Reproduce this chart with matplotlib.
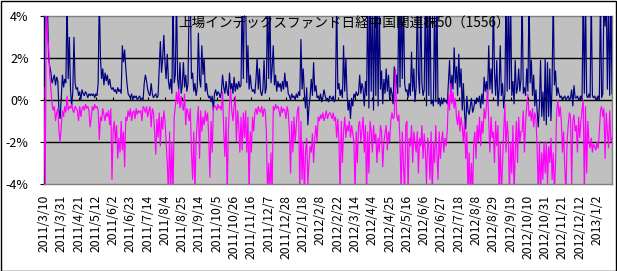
import matplotlib
matplotlib.use("Agg")
import matplotlib.pyplot as plt
from matplotlib.patches import Rectangle

plt.rcParams['font.family'] = ['Noto Sans CJK JP', 'DejaVu Sans']

title = "上場インデックスファンド日経中国関連株50（1556）"

date_labels = ["2011/3/10", "2011/3/31", "2011/4/21", "2011/5/12", "2011/6/2", "2011/6/23",
               "2011/7/14", "2011/8/4", "2011/8/25", "2011/9/14", "2011/10/5", "2011/10/26",
               "2011/11/16", "2011/12/7", "2011/12/28", "2012/1/18", "2012/2/8", "2012/2/22",
               "2012/3/14", "2012/4/4", "2012/4/25", "2012/5/16", "2012/6/6", "2012/6/27",
               "2012/7/18", "2012/8/8", "2012/8/29", "2012/9/19", "2012/10/10", "2012/10/31",
               "2012/11/21", "2012/12/12", "2013/1/2"]
label_step = 15

yticks = [4, 2, 0, -2, -4]

# navy series (%), values beyond +/-4 are clipped by the axis
navy = [
    0.9, 4.5, 5.0, 4.5, 2.0, 1.6, 1.3, 0.8, 1.0, 1.2, 0.7, 1.1, 0.9, -0.5, -0.9, 0.2,
    1.2, 0.6, 1.0, 0.8, 5.0, 1.0, 3.0, 0.5, -0.3, 0.4, 3.0, 0.8, 0.5, 0.6, 0.2, 0.4, 0.0, 0.5,
    0.3, 0.2, 0.4, 0.3, 0.1, 0.3, 0.2, 0.3, 0.2, 0.3, 0.1, 0.3, 0.2,
    0.8, 5.0, 2.0, 1.0, 1.5, 0.7, 1.3, 0.9, 1.2, 0.7, 1.0, 0.6,
    0.5, 0.6, 0.4, 0.5, 0.3, 0.6, 0.4, 0.5, 0.3, 2.6, 1.8, 2.4, 1.5, 0.8,
    0.3, 0.2, 0.1, 0.3, 0.0, 0.2, 0.1, 0.2, 0.0, 0.1, 0.2,
    # 84-166
    0.0, 0.1, 0.0, 0.8, 1.2, 0.9, 0.5, 0.3, 0.2, 0.8, 0.3, 0.1, 0.2, 0.3, 0.1, 0.2,
    1.5, 2.8, 1.3, 2.0, 3.1, 1.8, 1.0, 2.2, 0.9, 0.5, 1.0, 0.3, 5.0, 0.8, 1.2, 5.0,
    1.0, 0.5, 1.8, 0.3, 0.7, 1.8, 0.6, 1.2, 0.4, 0.8, 5.0, 5.0, 1.0,
    1.3, 0.4, 0.8, 0.2, 0.6, 3.2, 1.0, 0.6, 2.6, 1.2, 2.0, 0.4, 0.8,
    0.3, 0.1, 0.2, -0.1, 0.2, -0.5, 0.3, 0.5, 0.2, 0.4, 0.3, 0.1, 0.4,
    1.2, 0.6, 0.3, 0.9, 0.4, 0.2, 1.3, 0.5, 0.8, 0.3, 1.1, 0.4,
    # 167-248
    0.8, 0.5, 0.9, 0.6, 0.7, 5.0, 1.0, 5.0, 5.0, 0.8, 2.6, 0.5, 1.2, 0.6, 0.4, 0.5, 0.3,
    1.0, 2.0, 0.5, 1.5, 0.4, 0.2, 0.5, 1.9, 0.3, 0.6, 5.0, 1.0, 5.0, 0.8, 1.5,
    2.6, 0.7, 1.2, 0.4, 0.9, 0.6, 0.8, 0.4, 0.9, 0.5, 1.3, 0.6, 0.9, 0.3,
    0.2, 0.0, 0.3, 0.1, 0.2, 0.0, 0.3, 0.1, 0.4, 0.2, 2.9, 0.5,
    1.5, 0.3, -0.4, 0.6, -1.2, -0.3, 0.2, 1.0, 0.2, 1.8, 0.4, 0.7, 0.1,
    0.2, 0.0, 0.3, -0.1, 0.1, 0.5, 0.2, 0.0, 0.1, -0.1, 0.2,
    # 249-330
    0.1, 0.0, 0.2, -0.1, 0.1, 5.0, 0.5, 0.8, 0.2, 0.5, 0.1, 2.6, 0.4, 2.0, 0.3,
    -0.5, 0.0, -0.9, 0.1, -0.3, 0.3, 0.1, 0.4, 0.2, 0.3, 1.2, 0.3, 0.8,
    0.5, -0.3, 0.9, 0.2, 5.0, -0.4, 5.0, 0.4, 5.0, -0.5, 5.0, 0.2, 5.0, -0.3, 4.8, 0.5,
    1.4, -0.2, 1.0, 0.3, 1.5, 0.4, 1.2, 0.0, 0.6, 0.3, -0.2,
    1.6, 0.5, 1.2, 0.3, 5.0, 0.6, 5.0, 1.0, 5.0, 0.8, 0.4, 0.5, 0.1, 0.8, 0.2,
    2.3, 0.4, 1.5, -0.1, 0.6, 5.0, 1.2, 0.3, 5.0, 0.8, 0.2, 0.5,
    # 331-414
    5.0, -0.3, 5.0, 0.2, 5.0, -0.2, 0.0, -0.3, 5.0, -0.1, 5.0, -0.2, 0.1, -0.3,
    0.0, -0.2, 0.1, -0.1, 0.0, -0.2, 0.8, 1.9, 0.3, 1.2, 0.5, 2.5, 0.8, 1.6, 0.2,
    2.2, 0.6, 1.5, -0.5, 0.8, -0.6, -1.4, 0.2, -0.5, -0.7, -0.3, 0.1, -0.6, -0.4,
    0.0, -0.2, 0.1, -0.1, 0.2, -0.4, 0.3, -0.2, 1.1, 0.4, 0.9, 0.2, 2.6, 0.5, 1.5, 0.3,
    5.0, 1.3, 0.2, 1.9, -0.3, 0.5, 2.6, 0.2, 0.8, -0.4, 0.3, 5.0, 0.4, 5.0,
    0.5, 5.0, 0.2, 0.9, -0.2, 1.9, 0.3, 0.6, 1.5, 0.4, 1.0,
    # 415-493
    5.0, 0.3, 0.6, 0.2, 1.5, 0.4, 5.0, 0.8, 1.9, 0.2, 1.2, -0.3, 0.5, -0.5, -1.3,
    -0.2, 1.9, -0.8, 0.4, -1.0, 2.0, -1.2, 1.8, -0.8, 1.5, -1.0, 0.8, 5.0,
    0.7, 1.4, 0.2, 0.6, 0.3, 0.1, 0.2, 0.0, 0.1, 0.2, 0.0, 0.1, 0.2, 0.0, 0.1,
    0.5, -0.3, 0.7, 0.1, 0.1, 0.2, 0.0, 0.1, 0.2, 0.0, 5.0, 0.3, 5.0, 0.2, 0.1,
    0.3, 0.1, 5.0, 0.2, 0.1, 0.2, 0.0, 0.1, 0.2, 0.0, 5.0, 0.1, 0.3,
    5.0, 3.5, 5.0, 0.5, 5.0, 0.2, 5.0, 0.3,
]

# magenta series (%)
magenta = [
    0.6, -4.5, 4.5, 3.0, 2.5, 1.2, 0.5, -0.2, -0.5, -0.3, -1.0, -0.6, -0.4, -1.5, -2.0, -1.2,
    -0.5, -0.8, -0.3, -0.6, 0.2, -0.5, -0.3, -0.4, -0.2, -0.5, -0.6, -0.3, -0.4,
    -0.5, -1.0, -0.3, -0.8, -0.4, -0.3, -0.5, -0.2, -0.4, -0.3, -0.5,
    -1.3, -0.8, -0.3, -0.5, -0.2, -0.4, -0.3, -0.5, -1.9, -0.8, -1.0, -0.4, -0.7,
    -1.0, -0.6, -0.8, -0.5, -1.2, -0.4, -3.8, -1.5, -1.0, -2.0, -1.2, -2.8, -1.8, -2.5, -1.0,
    -2.4, -1.5, -3.2, -0.8, -1.0, -0.5, -0.8, -0.4, -1.0, -0.6, -0.5, -0.9, -0.4, -0.7, -0.5, -0.6,
    # 84-166
    -0.5, -1.0, -0.3, -0.4, -0.6, -0.3, -0.8, -0.5, -0.3, -1.3, -0.4, -0.6, -1.5, -2.6, -0.9, -1.8,
    -0.6, -2.2, -0.8, -1.4, -0.5, -1.0, -2.0, -3.0, -4.5, -1.5, -4.5, -2.0, -4.5, -0.8, -0.3, 0.4,
    -0.2, 0.5, -0.4, 0.2, -0.3, -0.5, 0.3, -1.2, -0.4, -0.6, -1.0, -0.4, -2.5,
    -3.8, -1.5, -4.5, -2.0, -1.0, -0.3, -2.8, -0.5, -1.5, -0.8, -1.2, -0.5, -1.0,
    -0.6, -1.8, -3.7, -1.0, -2.5, -0.4, -0.3, -0.3, -0.5, -0.2, -0.4, -0.3, -0.5,
    0.4, -1.5, -2.7, -0.8, -4.5, -1.5, -0.2, 0.5, -0.5, -1.0, -0.3, 0.2,
    # 167-248
    -2.0, -0.5, -1.2, -2.5, -0.8, -2.4, -0.6, -1.8, -0.5, -2.5, -0.8, -4.5, -1.5,
    -2.5, -0.8, -1.5, -0.6, -0.4, -0.7, -0.3, -0.5, -0.6, -0.3, -0.8, -0.4, -0.5,
    -1.5, -4.5, -3.0, -4.5, -2.5, -4.5, -0.3, -0.5, -0.2, -0.4, -0.3,
    -0.5, -0.8, -0.3, -0.6, -0.4, -0.5, -0.9, -0.3, -0.6,
    -1.5, -3.5, -1.0, -2.5, -0.8, -2.0, -1.2, -0.5, -0.3, -4.5, -1.0, -3.8,
    -2.0, -4.5, -2.5, -1.8, -4.0, -3.0, -2.2, -2.5, -1.6, -3.0, -1.8, -1.2, -2.0,
    -0.8, -1.0, -0.7, -0.9, -0.6, -1.0, -0.8, -0.5, -0.9, -0.7, -0.6,
    # 249-330
    -0.7, -0.9, -0.6, -1.0, -0.8, -1.8, -0.9, -2.0, -4.5, -1.0, -3.0, -1.5, -0.8, -1.8, -1.2,
    -1.5, -1.0, -1.8, -1.2, -1.6, -2.0, -4.5, -1.5, -3.0, -1.2, -1.0, -2.0, -1.4,
    -0.8, -2.5, -1.2, -4.5, -1.5, -3.5, -1.0, -1.5, -2.5, -1.2, -2.0, -1.6, -3.0, -1.8, -2.5, -1.2,
    -1.5, -3.2, -2.0, -1.6, -1.2, -2.4, -1.5, -2.0, -1.0, -0.6, -0.9,
    -0.8, 1.5, -0.6, -1.0, -0.7, -2.0, -4.5, -1.5, -3.0, -4.5, -1.2, -1.0, -4.5, -1.8, -2.2,
    -1.2, -3.0, -1.5, -2.0, -2.5, -1.5, -3.5, -1.8, -2.2, -1.2, -2.8, -1.6,
    # 331-414
    -2.5, -4.0, -1.8, -2.2, -3.8, -1.5, -4.5, -2.0, -3.0, -1.2, -2.5, -3.8, -1.5, -2.8,
    -2.0, -1.5, -2.5, -1.8, -2.2, -1.5, 0.3, -0.5, 0.8, -0.2, 0.4, -0.4, 0.1, -0.8, -1.2,
    -0.5, -1.5, -0.8, -1.3, -2.0, -1.0, -2.8, -1.5, -4.5, -2.5, -4.5, -3.0, -4.5, -2.0,
    -1.5, -2.8, -1.2, -2.0, -0.8, -2.2, -1.0, -1.6, -0.4, -0.9, -0.3, 0.5, -1.0, -2.5, -0.8, -1.8,
    -1.5, -3.0, -1.0, -2.2, -1.2, -4.5, -2.0, -4.5, -3.0, -1.5, -0.2, -2.5, -1.0, -1.8,
    -4.5, -2.0, -3.5, -1.2, -4.5, -2.5, -1.0, -3.0, -0.8, -2.0, -1.5,
    # 415-493
    -1.5, -0.5, -2.5, -1.0, -0.3, 0.3, -0.8, -0.5, -1.0, -0.4, -1.3, -0.6, -0.9, -2.2, -4.5,
    -2.0, -4.5, -2.5, -3.8, -2.0, -3.5, -2.0, -4.0, -2.2, -3.0, -1.8, -3.8, -2.5,
    -4.5, -3.0, -0.5, 0.0, -0.8, -0.3, -1.0, -2.5, -1.5, -3.2, -4.5, -2.0, -1.2, -0.6, -0.8,
    -4.0, -1.0, -0.7, -1.5, -1.2, -2.5, -0.8, -1.8, -1.0, -0.5, 0.0, -4.5, -0.3, -3.5, -1.0,
    -2.0, -2.3, -1.8, -2.5, -2.1, -2.2, -2.4, -2.0, -2.3, -1.5, -0.5, -0.3, -0.8,
    -0.4, -2.8, -0.6, -1.5, -2.3, -0.5, -2.0, -1.8,
]

W, H = 617, 271
fig = plt.figure(figsize=(W / 100, H / 100), dpi=100)
fig.patch.set_facecolor('white')
ax = fig.add_axes([44 / W, (H - 184) / H, (612 - 44) / W, (184 - 16) / H])
ax.set_facecolor('#C0C0C0')

n = len(navy)
xs = list(range(n))
ax.plot(xs, navy, color='#000080', lw=0.85, solid_joinstyle='miter', zorder=3)
ax.plot(list(range(len(magenta))), magenta, color='#FF00FF', lw=0.85, solid_joinstyle='miter', zorder=4)

ax.set_xlim(0, n - 1)
ax.set_ylim(-4, 4)
for g in (2, 0, -2):
    ax.axhline(g, color='black', lw=1.0, zorder=2)

tick_pos = [i * label_step for i in range(len(date_labels))]
ax.set_xticks(tick_pos)
ax.set_xticklabels(date_labels, rotation=90, fontsize=8.8, va='top', ha='center')
ax.tick_params(axis='x', length=0, pad=8)
ax.vlines(tick_pos, 0, 0.15, color='black', lw=0.8, zorder=5)

ax.set_yticks(yticks)
ax.set_yticklabels([f"{v}%" for v in yticks], fontsize=9)
ax.tick_params(axis='y', length=3, width=0.8, pad=8, direction='out')

for s in ('top', 'right', 'bottom'):
    ax.spines[s].set_color('#808080')
    ax.spines[s].set_linewidth(1.0)
ax.spines['left'].set_color('black')
ax.spines['left'].set_linewidth(1.0)

ax.text(0.528, 0.955, title, transform=ax.transAxes, ha='center', va='center',
        fontsize=9.8, color='black', zorder=6)

fig.patches.append(Rectangle((0.5 / W, 0.5 / H), 1 - 1.5 / W, 1 - 1.5 / H,
                             transform=fig.transFigure, fill=False,
                             edgecolor='black', lw=1.0))

fig.savefig('out.png', dpi=100)
